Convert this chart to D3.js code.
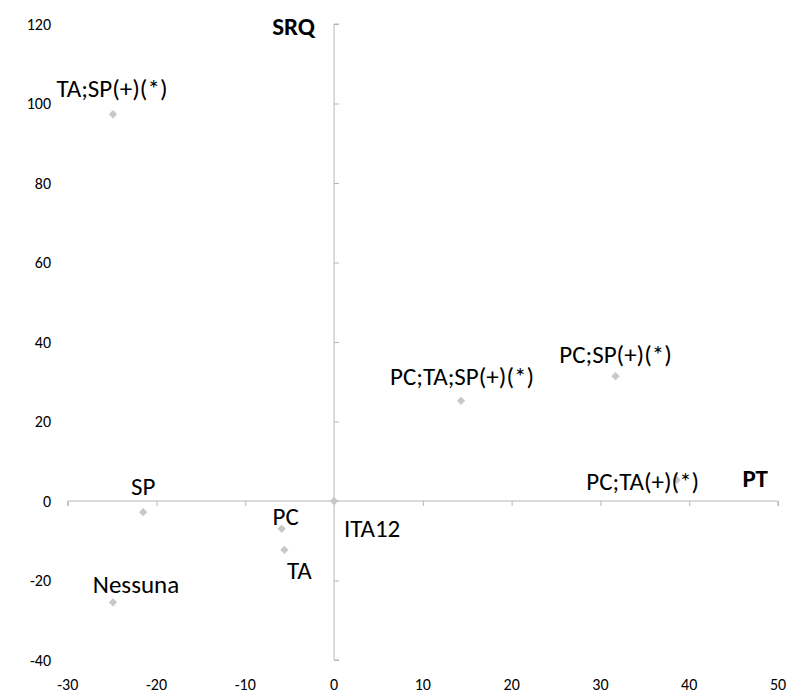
<!DOCTYPE html>
<html><head><meta charset="utf-8">
<script src="https://cdn.jsdelivr.net/npm/d3@7"></script>
<style>
html,body{margin:0;padding:0;background:#fff;}
svg{display:block;}
</style></head>
<body>
<svg id="chart" width="788" height="695"></svg>
<script>
// ---- data ----
const pointNames = ["TA;SP(+)(*)","SP","PC","TA","Nessuna","ITA12","PC;TA;SP(+)(*)","PC;SP(+)(*)","PC;TA(+)(*)"];
const ptValues  = [-24.9, -21.5, -5.9, -5.6, -24.9, 0, 14.3, 31.7, 38.6];
const srqValues = [97.3, -2.8, -7.0, -12.3, -25.5, 0, 25.2, 31.4, 5.3];
const xTicks = [-30,-20,-10,0,10,20,30,40,50];
const yTicks = [-40,-20,0,20,40,60,80,100,120];
const xTitle = "PT";
const yTitle = "SRQ";

// ---- layout (label offsets in px relative to the marker) ----
const labelOffsets = [[-1,-26],[0,-26],[4,-13],[15,20],[23,-18],[38,27],[1,-25],[0,-22],[-34,1]];

const svg = d3.select("#chart");
const x = d3.scaleLinear().domain([-30,50]).range([67.7,778]);
const y = d3.scaleLinear().domain([-40,120]).range([660,24]);
const axisColor = "#b7b7b7";
const font = "Carlito, Lato, 'Open Sans', sans-serif";

// x axis through y=0
const gx = svg.append("g").attr("transform",`translate(0,${y(0)})`)
  .call(d3.axisBottom(x).tickValues(xTicks).tickSize(5).tickFormat(""));
gx.select(".domain").attr("stroke",axisColor).attr("d",`M${x(-30)},5V0H${x(50)}V5`);
gx.selectAll(".tick line").attr("stroke",axisColor);

// y axis through x=0
const gy = svg.append("g").attr("transform",`translate(${x(0)},0)`)
  .call(d3.axisRight(y).tickValues(yTicks).tickSize(5).tickFormat(""));
gy.select(".domain").attr("stroke",axisColor).attr("d",`M5,${y(120)}H0V${y(-40)}H5`);
gy.selectAll(".tick line").attr("stroke",axisColor);

// tick labels at chart edges
svg.append("g").selectAll("text").data(xTicks).join("text")
  .attr("x",d=>x(d)).attr("y",684).attr("dy","0.35em")
  .attr("text-anchor","middle").attr("font-family",font).attr("font-size",16)
  .attr("fill","#000").text(d=>d);
svg.append("g").selectAll("text").data(yTicks).join("text")
  .attr("x",51).attr("y",d=>y(d)).attr("dy","0.35em")
  .attr("text-anchor","end").attr("font-family",font).attr("font-size",16)
  .attr("fill","#000").text(d=>d);

// axis titles
svg.append("text").attr("x",315).attr("y",26).attr("dy","0.35em").attr("text-anchor","end")
  .attr("font-family",font).attr("font-weight","bold").attr("font-size",25).text(yTitle);
svg.append("text").attr("x",768).attr("y",478).attr("dy","0.35em").attr("text-anchor","end")
  .attr("font-family",font).attr("font-weight","bold").attr("font-size",25).text(xTitle);

// points
const pts = pointNames.map((n,i)=>({name:n,px:ptValues[i],py:srqValues[i],off:labelOffsets[i]}));
svg.append("g").selectAll("path").data(pts).join("path")
  .attr("d",d3.symbol(d3.symbolDiamond2,44))
  .attr("transform",d=>`translate(${x(d.px)},${y(d.py)})`)
  .attr("fill","#c8c8c8");

// labels
svg.append("g").selectAll("text").data(pts).join("text")
  .attr("x",d=>x(d.px)+d.off[0]).attr("y",d=>y(d.py)+d.off[1]).attr("dy","0.35em")
  .attr("text-anchor","middle").attr("font-family",font).attr("font-size",25)
  .attr("fill","#000").text(d=>d.name);
</script>
</body></html>
